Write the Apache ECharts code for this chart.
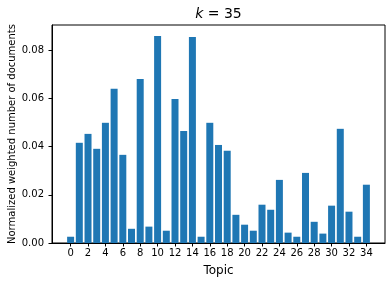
<!DOCTYPE html>
<html>
<head>
<meta charset="utf-8">
<script src="https://cdn.jsdelivr.net/npm/echarts@6/dist/echarts.min.js"></script>
<style>
html,body{margin:0;padding:0;background:#fff;}
#c{width:392px;height:284px;}
</style>
</head>
<body>
<div id="c"></div>
<script>
const topics = [0,1,2,3,4,5,6,7,8,9,10,11,12,13,14,15,16,17,18,19,20,21,22,23,24,25,26,27,28,29,30,31,32,33,34];
const values = [0.0026,0.0416,0.0453,0.0391,0.0499,0.0640,0.0366,0.0059,0.0681,0.0068,
                0.0859,0.0051,0.0598,0.0465,0.0855,0.0026,0.0499,0.0407,0.0383,0.0117,
                0.0076,0.0051,0.0159,0.0138,0.0262,0.0043,0.0026,0.0291,0.0088,0.0039,
                0.0155,0.0474,0.0130,0.0026,0.0242];
const xTicks = [0,2,4,6,8,10,12,14,16,18,20,22,24,26,28,30,32,34];
const yTicks = [0,0.02,0.04,0.06,0.08];

const font = 'DejaVu Sans';
const chart = echarts.init(document.getElementById('c'), null, {renderer:'canvas'});
chart.setOption({
  animation:false,
  backgroundColor:'#fff',
  grid:{left:52,right:7,top:25,bottom:41,show:true,borderColor:'#000',borderWidth:1,
        backgroundColor:'transparent',containLabel:false,outerBoundsMode:'none'},
  graphic:[{
    type:'text',
    style:{
      x:218.5, y:14, text:'{i|k} = 35', textAlign:'center', textVerticalAlign:'middle',
      fontFamily:font, fontSize:14, fill:'#000',
      rich:{i:{fontStyle:'italic',fontFamily:font,fontSize:14,fill:'#000'}}
    }
  }],
  xAxis:{
    type:'value', min:-2.14, max:36.14,
    name:'Topic', nameLocation:'middle', nameGap:22, nameMoveOverlap:false,
    nameTextStyle:{fontFamily:font,fontSize:12,color:'#000'},
    axisLine:{show:true,onZero:false,lineStyle:{color:'#000',width:1}},
    axisTick:{show:true,inside:false,length:3.5,lineStyle:{color:'#000'},customValues:xTicks},
    axisLabel:{fontFamily:font,fontSize:10,color:'#000',margin:5,customValues:xTicks},
    splitLine:{show:false}
  },
  yAxis:{
    type:'value', min:0, max:0.0905,
    name:'Normalized weighted number of documents', nameLocation:'middle', nameGap:35, nameMoveOverlap:false,
    nameTextStyle:{fontFamily:font,fontSize:10,color:'#000'},
    axisLine:{show:true,onZero:false,lineStyle:{color:'#000',width:1}},
    axisTick:{show:true,inside:false,length:3.5,lineStyle:{color:'#000'},customValues:yTicks},
    axisLabel:{fontFamily:font,fontSize:10,color:'#000',margin:8,customValues:yTicks,
      formatter:v=>v.toFixed(2)},
    splitLine:{show:false}
  },
  series:[{
    type:'bar',
    data:topics.map((t,i)=>[t,values[i]]),
    barWidth:7,
    itemStyle:{color:'#1f77b4'}
  }]
});
</script>
</body>
</html>
